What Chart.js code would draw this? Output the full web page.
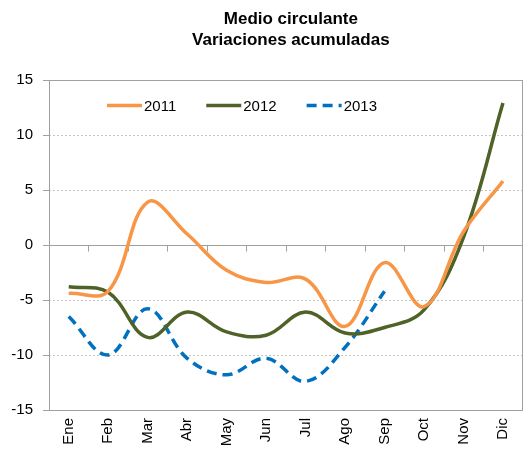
<!DOCTYPE html>
<html>
<head>
<meta charset="utf-8">
<script src="https://cdn.jsdelivr.net/npm/chart.js@4/dist/chart.umd.min.js"></script>
<style>
  html, body { margin: 0; padding: 0; background: #ffffff; }
  #wrap { width: 529px; height: 454px; }
</style>
</head>
<body>
<div id="wrap"><canvas id="c" width="529" height="454"></canvas></div>
<script>
const titleLines = ['Medio circulante', 'Variaciones acumuladas'];
const months = ['Ene','Feb','Mar','Abr','May','Jun','Jul','Ago','Sep','Oct','Nov','Dic'];
const seriesNames = ['2011', '2012', '2013'];
const v2011 = [-4.4, -4.2, 3.9, 1.0, -2.3, -3.4, -3.1, -7.4, -1.6, -5.6, 1.2, 5.8];
const v2012 = [-3.8, -4.3, -8.4, -6.1, -7.9, -8.2, -6.1, -8.0, -7.5, -5.9, 0.7, 12.9];
const v2013 = [-6.5, -10.0, -5.8, -10.3, -11.8, -10.3, -12.4, -9.3, -4.2];
const yTicks = [-15, -10, -5, 0, 5, 10, 15];

const FONT = '"Liberation Sans", Arial, sans-serif';
const AXIS_GREY = '#a0a0a0';

const framePlugin = {
  id: 'frame',
  beforeDatasetsDraw(chart) {
    const {ctx, chartArea: a, scales} = chart;
    const x = scales.x, y = scales.y;
    ctx.save();
    ctx.strokeStyle = AXIS_GREY;
    ctx.lineWidth = 1;
    ctx.setLineDash([]);
    const y0 = Math.round(y.getPixelForValue(0)) + 0.5;
    ctx.beginPath();
    ctx.moveTo(a.left, y0);
    ctx.lineTo(a.right, y0);
    for (let i = 1; i < months.length; i++) {
      const bx = Math.round((x.getPixelForValue(i - 1) + x.getPixelForValue(i)) / 2) + 0.5;
      ctx.moveTo(bx, y0);
      ctx.lineTo(bx, y0 + 6);
    }
    ctx.stroke();
    ctx.strokeRect(Math.round(a.left) + 0.5, Math.round(a.top) + 0.5,
                   Math.round(a.right - a.left) - 1, Math.round(a.bottom - a.top));
    ctx.restore();
  }
};

const titlePlugin = {
  id: 'twoLineTitle',
  afterDraw(chart) {
    const {ctx, chartArea: a} = chart;
    ctx.save();
    ctx.font = 'bold 17px ' + FONT;
    ctx.fillStyle = '#000000';
    ctx.textAlign = 'center';
    ctx.textBaseline = 'alphabetic';
    const cx = (a.left + a.right) / 2 + 5;
    ctx.fillText(titleLines[0], cx, 24);
    ctx.fillText(titleLines[1], cx, 45);
    ctx.restore();
  }
};

const legendPlugin = {
  id: 'innerLegend',
  afterDraw(chart) {
    const {ctx, chartArea: a} = chart;
    ctx.save();
    ctx.font = '15px ' + FONT;
    ctx.textBaseline = 'middle';
    ctx.textAlign = 'left';
    let x = a.left + 58;
    const y = a.top + 25.5;
    chart.data.datasets.forEach(ds => {
      ctx.strokeStyle = ds.borderColor;
      ctx.lineWidth = ds.borderWidth;
      ctx.lineCap = 'butt';
      ctx.setLineDash(ds.borderDash || []);
      ctx.beginPath();
      ctx.moveTo(x, y);
      ctx.lineTo(x + 35, y);
      ctx.stroke();
      ctx.setLineDash([]);
      ctx.fillStyle = '#000000';
      ctx.fillText(ds.label, x + 37, y + 1);
      x += 37 + ctx.measureText(ds.label).width + 30;
    });
    ctx.restore();
  }
};

new Chart(document.getElementById('c'), {
  type: 'line',
  data: {
    labels: months,
    datasets: [
      { label: seriesNames[0], data: v2011, borderColor: '#F79646', backgroundColor: '#F79646',
        borderWidth: 3.5, pointRadius: 0, tension: 0.38, fill: false },
      { label: seriesNames[1], data: v2012, borderColor: '#4F6228', backgroundColor: '#4F6228',
        borderWidth: 3.5, pointRadius: 0, tension: 0.38, fill: false },
      { label: seriesNames[2], data: v2013, borderColor: '#0070C0', backgroundColor: '#0070C0',
        borderWidth: 3.5, borderDash: [10, 6], pointRadius: 0, tension: 0.38, fill: false }
    ]
  },
  options: {
    responsive: false,
    devicePixelRatio: 1,
    animation: false,
    layout: { padding: { top: 80, right: 1, left: 0, bottom: 0 } },
    plugins: {
      legend: { display: false },
      title: { display: false },
      tooltip: { enabled: false }
    },
    scales: {
      x: {
        type: 'category',
        offset: true,
        grid: { display: false, drawOnChartArea: false, drawTicks: false },
        border: { display: false },
        ticks: {
          autoSkip: false, minRotation: 90, maxRotation: 90, padding: 8,
          color: '#000000', font: { family: FONT, size: 15 }
        },
        afterFit(scale) { scale.height = 44; }
      },
      y: {
        min: -15, max: 15,
        afterBuildTicks(scale) { scale.ticks = yTicks.map(v => ({ value: v })); },
        grid: {
          color: '#c4c4c4', lineWidth: 1, drawTicks: true, tickLength: 6,
          tickColor: AXIS_GREY, tickBorderDash: []
        },
        border: { display: false, dash: [2, 2] },
        ticks: {
          padding: 10, color: '#000000', font: { family: FONT, size: 15 }
        },
        afterFit(scale) { scale.width = 49; }
      }
    }
  },
  plugins: [framePlugin, titlePlugin, legendPlugin]
});
</script>
</body>
</html>
